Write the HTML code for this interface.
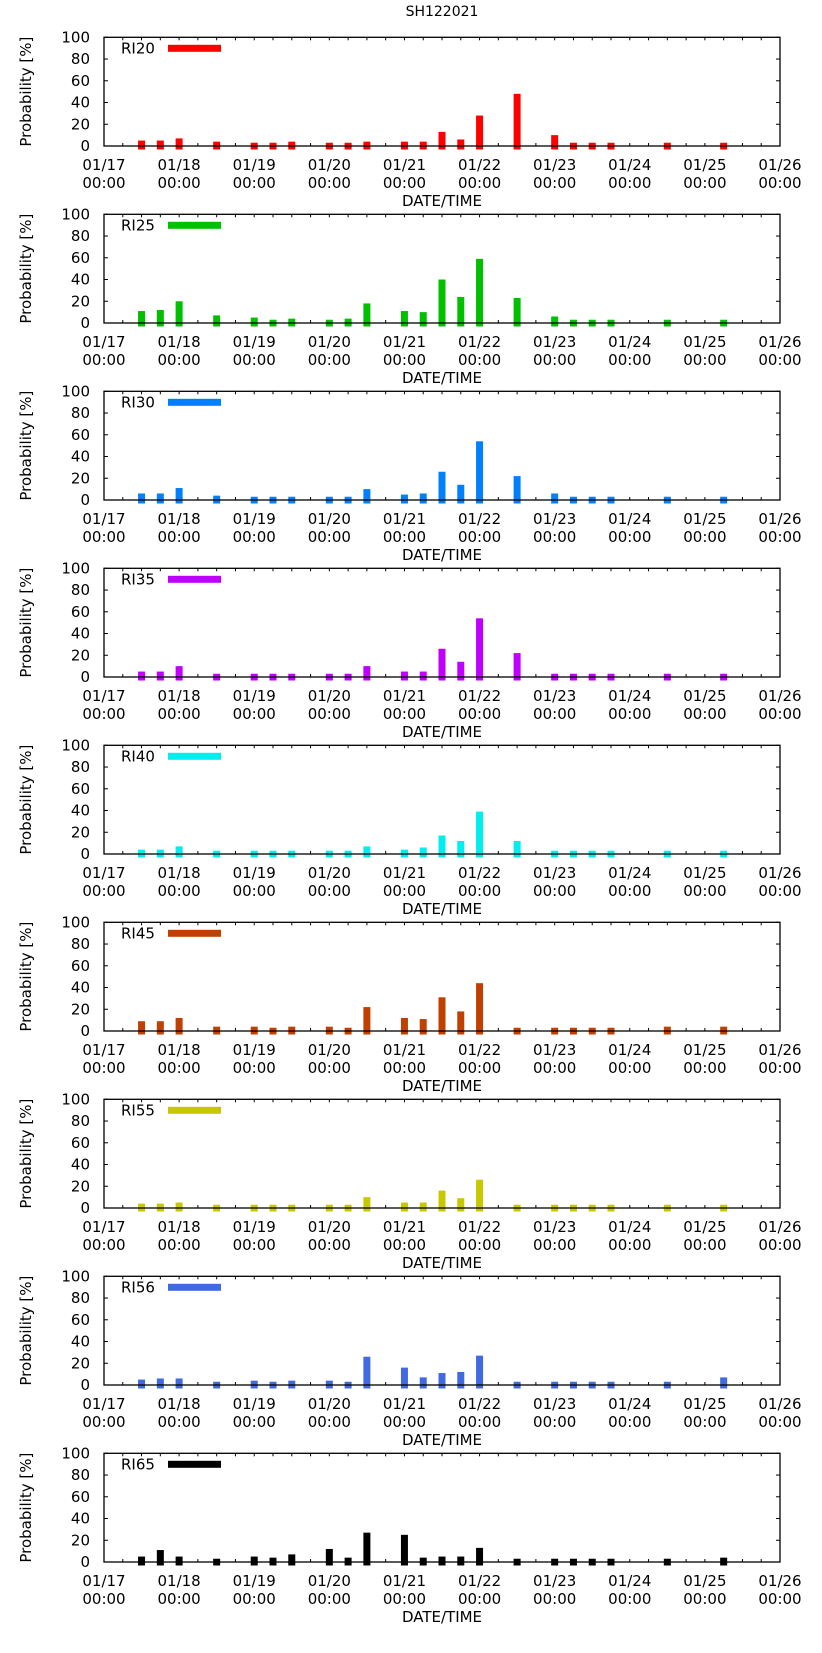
<!DOCTYPE html>
<html><head><meta charset="utf-8">
<style>
html,body{margin:0;padding:0;background:#fff;}
svg{display:block;font-family:"DejaVu Sans","Liberation Sans",sans-serif;}
</style></head>
<body>
<svg id="chart" width="822" height="1653" viewBox="0 0 822 1653" xmlns="http://www.w3.org/2000/svg">
<text x="442" y="16" font-size="14" text-anchor="middle">SH122021</text>
</svg>
<script>
const slots = [2,3,4,6,8,9,10,12,13,14,16,17,18,19,20,22,24,25,26,27,30,33];
const dayLabels = ["01/17","01/18","01/19","01/20","01/21","01/22","01/23","01/24","01/25","01/26"];
const yTicks = [0,20,40,60,80,100];
const seriesNames = ["RI20","RI25","RI30","RI35","RI40","RI45","RI55","RI56","RI65"];
const seriesColors = ["#ff0000","#00c000","#0080ff","#c000ff","#00eeee","#c04000","#c8c800","#4169e1","#000000"];
const ri20 = [5,5,7,4,3,3,4,3,3,4,4,4,13,6,28,48,10,3,3,3,3,3];
const ri25 = [11,12,20,7,5,3,4,3,4,18,11,10,40,24,59,23,6,3,3,3,3,3];
const ri30 = [6,6,11,4,3,3,3,3,3,10,5,6,26,14,54,22,6,3,3,3,3,3];
const ri35 = [5,5,10,3,3,3,3,3,3,10,5,5,26,14,54,22,3,3,3,3,3,3];
const ri40 = [4,4,7,3,3,3,3,3,3,7,4,6,17,12,39,12,3,3,3,3,3,3];
const ri45 = [9,9,12,4,4,3,4,4,3,22,12,11,31,18,44,3,3,3,3,3,4,4];
const ri55 = [4,4,5,3,3,3,3,3,3,10,5,5,16,9,26,3,3,3,3,3,3,3];
const ri56 = [5,6,6,3,4,3,4,4,3,26,16,7,11,12,27,3,3,3,3,3,3,7];
const ri65 = [5,11,5,3,5,4,7,12,4,27,25,4,5,5,13,3,3,3,3,3,3,4];
const allSeries = [ri20,ri25,ri30,ri35,ri40,ri45,ri55,ri56,ri65];

const NS = "http://www.w3.org/2000/svg";
const svg = document.getElementById("chart");
const X0 = 104, X1 = 780, PH = 108.7, TOP0 = 37.3, STRIDE = 177;
const slotW = (X1 - X0) / 36;
function xScale(slot){ return X0 + slot * slotW; }
function mk(tag, attrs, parent){ const e = document.createElementNS(NS, tag); for (const k in attrs) e.setAttribute(k, attrs[k]); (parent||svg).appendChild(e); return e; }

allSeries.forEach((vals, p) => {
  const top = TOP0 + p * STRIDE, bot = top + PH;
  const yScale = v => bot - v / 100 * PH;
  const g = mk("g", {});
  
  
  // ticks
  for (let s = 0; s <= 36; s++) {
    const x = xScale(s);
    mk("line", {x1:x, y1:bot, x2:x, y2:bot-3, stroke:"#000", "stroke-width":1}, g);
    mk("line", {x1:x, y1:top, x2:x, y2:top+3, stroke:"#000", "stroke-width":1}, g);
  }
  yTicks.forEach(t => {
    const y = yScale(t);
    mk("line", {x1:X0, y1:y, x2:X0+4, y2:y, stroke:"#000", "stroke-width":1}, g);
    mk("line", {x1:X1, y1:y, x2:X1-4, y2:y, stroke:"#000", "stroke-width":1}, g);
    const tl = mk("text", {x:90, y:y+5, "font-size":15, "text-anchor":"end"}, g);
    tl.textContent = t;
    
    
  });
  dayLabels.forEach((d, i) => {
    const x = xScale(i * 4);
    const t1 = mk("text", {x:x, y:bot+24, "font-size":15, "text-anchor":"middle"}, g);
    t1.textContent = d;
    
    
    const t2 = mk("text", {x:x, y:bot+42, "font-size":15, "text-anchor":"middle"}, g);
    t2.textContent = "00:00";
    
    
  });
  // bars
  vals.forEach((v, i) => {
    const x = xScale(slots[i]);
    const r = mk("rect", {x:x-3.5, y:yScale(v), width:7, height:(bot - yScale(v)) + 3.5, fill:seriesColors[p]}, g);
    
    
  });
  // frame
  const f = mk("rect", {x:X0, y:top, width:X1-X0, height:PH, fill:"none", stroke:"#000", "stroke-width":1.3}, g);
  
  
  // legend
  const lt = mk("text", {x:121, y:top+16, "font-size":15}, g);
  lt.textContent = seriesNames[p];
  
  
  const ls = mk("rect", {x:168, y:top+7.5, width:53, height:7, fill:seriesColors[p]}, g);
  
  
  // axis titles
  const xt = mk("text", {x:442, y:bot+60, "font-size":15, "text-anchor":"middle"}, g);
  xt.textContent = "DATE/TIME";
  
  
  const cy = top + PH/2;
  const yt = mk("text", {x:0, y:0, "font-size":15, "text-anchor":"middle", transform:"translate(31," + cy + ") rotate(-90)"}, g);
  yt.textContent = "Probability [%]";
  
  
});
</script>
</body></html>
